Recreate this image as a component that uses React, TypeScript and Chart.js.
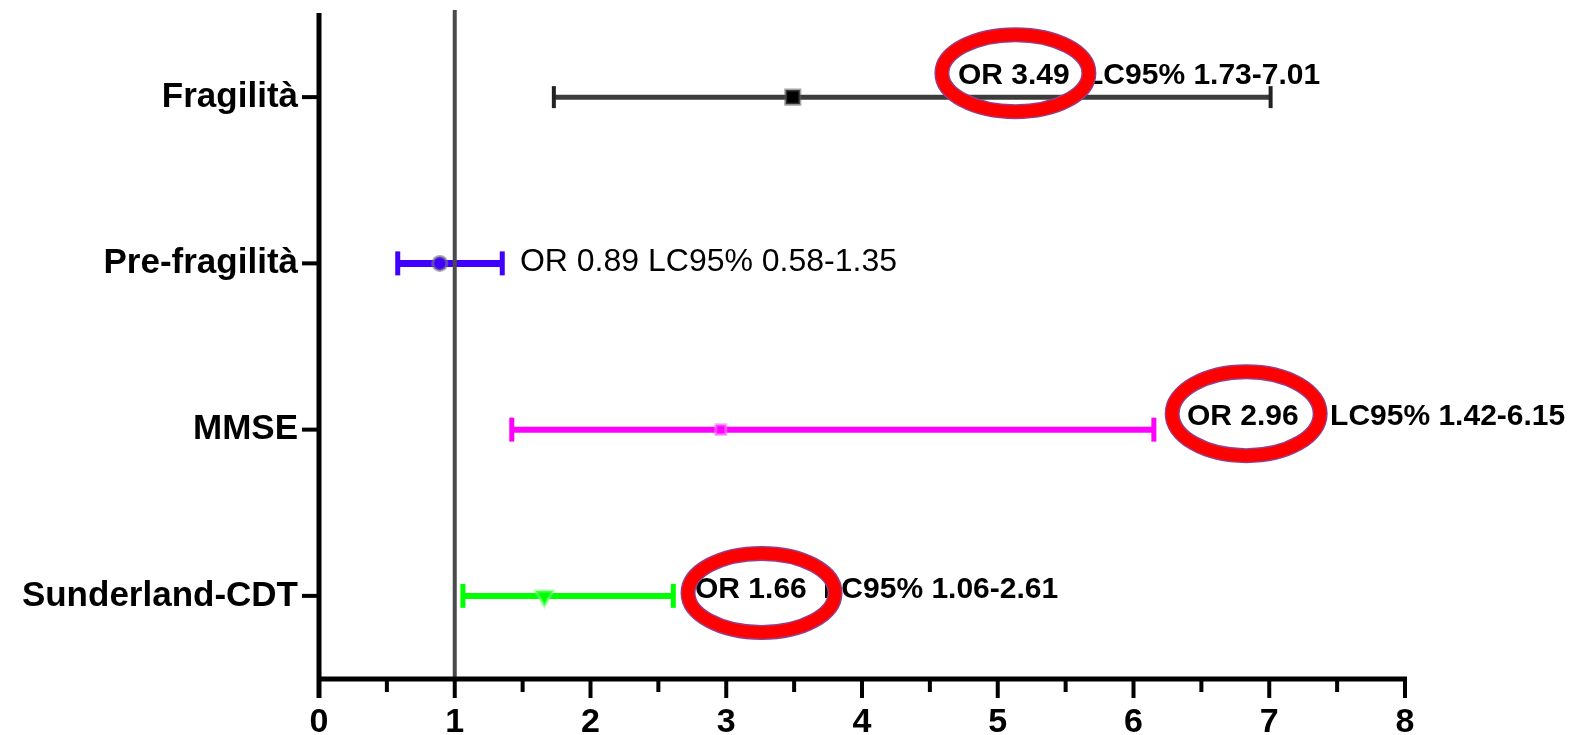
import React, { useEffect, useRef } from "react";
import { Chart, registerables } from "chart.js";

Chart.register(...registerables);

// ---------- data ----------
const categories = ["Fragilità", "Pre-fragilità", "MMSE", "Sunderland-CDT"];
const oddsRatios = [3.49, 0.89, 2.96, 1.66];
const ciLower = [1.73, 0.58, 1.42, 1.06];
const ciUpper = [7.01, 1.35, 6.15, 2.61];
const xTickValues = [0, 1, 2, 3, 4, 5, 6, 7, 8];
const xMinorValues = [0.5, 1.5, 2.5, 3.5, 4.5, 5.5, 6.5, 7.5];
const referenceValue = 1;
const orLabels = ["OR 3.49", "OR 0.89", "OR 2.96", "OR 1.66"];
const ciLabels = ["LC95% 1.73-7.01", "LC95% 0.58-1.35", "LC95% 1.42-6.15", "LC95% 1.06-2.61"];
const highlighted = [true, false, true, true];

// ---------- styles ----------
const pointColors = ["#000000", "#4000FF", "#FF00FF", "#00FF00"];
const pointBorders = ["rgba(90,90,90,0.55)", "rgba(120,120,120,0.6)", "rgba(255,120,255,0.6)", "rgba(120,255,120,0.6)"];
const barColors = ["#3c3c3c", "#4000FF", "#FF00FF", "#00FF00"];
const capColors = ["#222222", "#4000FF", "#FF00FF", "#00FF00"];
const barWidths = [5, 7, 6, 6];
const capWidths = [4, 5, 5, 5];
const capHalf = [11, 12, 12, 12];
const pointStyles = ["rect", "circle", "rect", "triangle"];
const pointRotations = [0, 0, 0, 180];
const pointRadii = [10, 7, 7, 10];

// annotation layout (x in axis units, dy in px relative to the row)
const orTextX = [4.707, 1.48, 6.394, 2.77];
const ciTextX = [5.643, 0, 7.448, 3.713];
const textDy = [-13, 8, -5, 2];
const ellipseX = [5.13, 0, 6.83, 3.26];
const ellipseDy = [-24, 0, -16, -3];
const ellipseRx = [73.5, 0, 74, 73.5];
const ellipseRy = [38.5, 0, 42, 39.5];

const FONT = '"Liberation Sans", Arial, Helvetica, sans-serif';

const forestPlugin = {
  id: "forest",
  beforeDatasetsDraw(chart: any) {
    const { ctx, scales } = chart;
    const x = scales.x;
    const y = scales.y;
    ctx.save();
    categories.forEach((_, i) => {
      const py = y.getPixelForValue(i + 1);
      const x0 = x.getPixelForValue(ciLower[i]);
      const x1 = x.getPixelForValue(ciUpper[i]);
      ctx.strokeStyle = barColors[i];
      ctx.lineWidth = barWidths[i];
      ctx.lineCap = "butt";
      ctx.beginPath();
      ctx.moveTo(x0, py);
      ctx.lineTo(x1, py);
      ctx.stroke();
      ctx.strokeStyle = capColors[i];
      ctx.lineWidth = capWidths[i];
      [x0, x1].forEach((cx) => {
        ctx.beginPath();
        ctx.moveTo(cx, py - capHalf[i]);
        ctx.lineTo(cx, py + capHalf[i]);
        ctx.stroke();
      });
    });
    // reference line at OR = 1
    const rx = x.getPixelForValue(referenceValue);
    ctx.strokeStyle = "#4a4a4a";
    ctx.lineWidth = 4;
    ctx.beginPath();
    ctx.moveTo(rx, chart.chartArea.top - 4);
    ctx.lineTo(rx, chart.chartArea.bottom);
    ctx.stroke();
    ctx.restore();
  },
  afterDraw(chart: any) {
    const { ctx, scales, chartArea } = chart;
    const x = scales.x;
    const y = scales.y;
    ctx.save();
    // axes
    ctx.strokeStyle = "#000";
    ctx.lineCap = "butt";
    ctx.lineWidth = 5;
    ctx.beginPath();
    ctx.moveTo(chartArea.left, chartArea.top - 1);
    ctx.lineTo(chartArea.left, chartArea.bottom + 19);
    ctx.stroke();
    ctx.beginPath();
    ctx.moveTo(chartArea.left, chartArea.bottom);
    ctx.lineTo(x.getPixelForValue(8) + 2, chartArea.bottom);
    ctx.stroke();
    ctx.lineWidth = 4;
    xTickValues.forEach((v) => {
      const px = x.getPixelForValue(v);
      ctx.beginPath();
      ctx.moveTo(px, chartArea.bottom);
      ctx.lineTo(px, chartArea.bottom + 19);
      ctx.stroke();
    });
    xMinorValues.forEach((v) => {
      const px = x.getPixelForValue(v);
      ctx.beginPath();
      ctx.moveTo(px, chartArea.bottom);
      ctx.lineTo(px, chartArea.bottom + 13);
      ctx.stroke();
    });
    categories.forEach((_, i) => {
      const py = y.getPixelForValue(i + 1);
      ctx.beginPath();
      ctx.moveTo(chartArea.left - 17, py);
      ctx.lineTo(chartArea.left, py);
      ctx.stroke();
    });

    // annotations
    ctx.fillStyle = "#000";
    ctx.textBaseline = "alphabetic";
    ctx.textAlign = "left";
    categories.forEach((_, i) => {
      const py = y.getPixelForValue(i + 1);
      const base = py + textDy[i];
      if (highlighted[i]) {
        ctx.font = `bold 30px ${FONT}`;
        ctx.fillText(orLabels[i], x.getPixelForValue(orTextX[i]), base);
        ctx.fillText(ciLabels[i], x.getPixelForValue(ciTextX[i]), base);
        const ex = x.getPixelForValue(ellipseX[i]);
        const ey = py + ellipseDy[i];
        ctx.beginPath();
        ctx.ellipse(ex, ey, ellipseRx[i], ellipseRy[i], 0, 0, Math.PI * 2);
        ctx.strokeStyle = "#9a3c82";
        ctx.lineWidth = 15;
        ctx.stroke();
        ctx.strokeStyle = "#FF0000";
        ctx.lineWidth = 12;
        ctx.stroke();
      } else {
        ctx.font = `32px ${FONT}`;
        ctx.fillText(`${orLabels[i]} ${ciLabels[i]}`, x.getPixelForValue(orTextX[i]), base);
      }
    });
    ctx.restore();
  },
};

export default function App() {
  const canvasRef = useRef<HTMLCanvasElement | null>(null);

  useEffect(() => {
    if (!canvasRef.current) return;
    const datasets = categories.map((name, i) => ({
      label: name,
      data: [{ x: oddsRatios[i], y: i + 1 }],
      backgroundColor: pointColors[i],
      borderColor: pointBorders[i],
      borderWidth: 3,
      pointStyle: pointStyles[i] as any,
      rotation: pointRotations[i],
      pointRadius: pointRadii[i],
      showLine: false,
    }));

    const chart = new Chart(canvasRef.current, {
      type: "scatter",
      data: { datasets },
      plugins: [forestPlugin],
      options: {
        animation: false,
        responsive: false,
        devicePixelRatio: 1,
        layout: { padding: { left: 0, right: 169, top: 14, bottom: 0 } },
        plugins: {
          legend: { display: false },
          tooltip: { enabled: false },
        },
        scales: {
          x: {
            type: "linear",
            min: 0,
            max: 8,
            grid: { display: false, drawTicks: false },
            border: { display: false },
            afterBuildTicks: (scale: any) => {
              scale.ticks = xTickValues.map((v) => ({ value: v }));
            },
            afterFit: (scale: any) => {
              scale.height = 56;
              scale.paddingLeft = 0;
              scale.paddingRight = 0;
            },
            ticks: {
              color: "#000",
              padding: 23,
              maxRotation: 0,
              autoSkip: false,
              font: { family: FONT, size: 34, weight: "bold" },
              callback: (v: any) => String(v),
            },
          },
          y: {
            type: "linear",
            min: 0.5,
            max: 4.5,
            reverse: true,
            grid: { display: false, drawTicks: false },
            border: { display: false },
            afterBuildTicks: (scale: any) => {
              scale.ticks = categories.map((_, i) => ({ value: i + 1 }));
            },
            afterFit: (scale: any) => {
              scale.width = 319;
              scale.paddingTop = 0;
              scale.paddingBottom = 0;
            },
            ticks: {
              color: "#000",
              padding: 21,
              autoSkip: false,
              font: { family: FONT, size: 35, weight: "bold" },
              callback: (v: any) => categories[Math.round(v) - 1] ?? "",
            },
          },
        },
      },
    });
    return () => chart.destroy();
  }, []);

  return (
    <div style={{ position: "absolute", left: 0, top: 0, width: 1574, height: 735, background: "#fff" }}>
      <canvas ref={canvasRef} width={1574} height={735} style={{ width: 1574, height: 735, display: "block" }} />
    </div>
  );
}
